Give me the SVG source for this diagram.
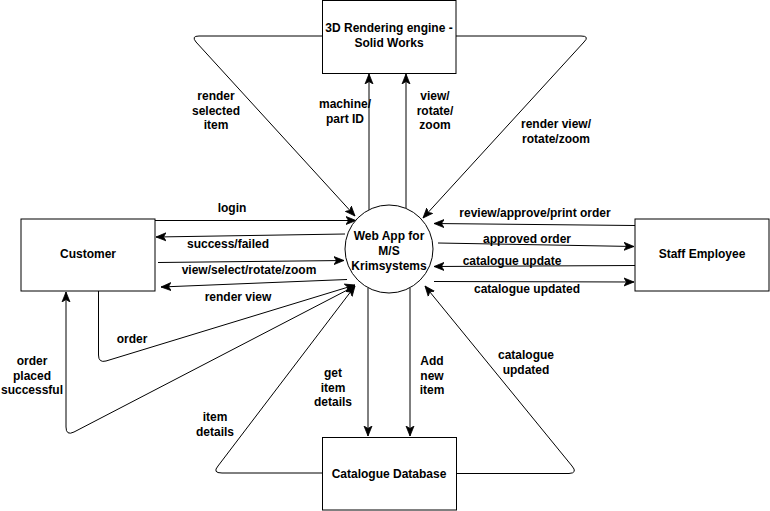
<svg xmlns="http://www.w3.org/2000/svg" width="770" height="511" viewBox="0 0 770 511">
<style>
.box{fill:#fff;stroke:#000;stroke-width:1}
.t{font-family:"Liberation Sans",Arial,sans-serif;font-size:12px;font-weight:bold;fill:#000;text-anchor:middle}
.c{fill:none;stroke:#000;stroke-width:1}
.a{marker-end:url(#arr)}
</style>
<defs>
<marker id="arr" markerUnits="userSpaceOnUse" markerWidth="12" markerHeight="10" viewBox="0 0 12 10" refX="10" refY="5" orient="auto">
<path d="M0,1 L10,5 L0,9 L2.5,5 z" fill="#000" stroke="#000" stroke-width="0.8"/>
</marker>
</defs>
<rect width="770" height="511" fill="#fff"/>
<g id="connectors">
<path class="c a" d="M322,36 L199,36 Q191,36 196,42 L355,216"/>
<path class="c a" d="M456,36 L581,36 Q590,36 584,42 L423,218"/>
<path class="c a" d="M369,210 L369,74"/>
<path class="c a" d="M406,208 L406,74"/>
<path class="c a" d="M368,288 L368,436"/>
<path class="c a" d="M410,288 L410,436"/>
<path class="c a" d="M155,220.5 L356,220.5"/>
<path class="c a" d="M345,234 L156,237"/>
<path class="c a" d="M158,262.5 L344,260.5"/>
<path class="c a" d="M347,279.5 L161,287"/>
<path class="c a" d="M98.5,291 L98.5,355 Q98.5,363 106,361 L355,285"/>
<path class="c a" d="M355,286 L74,432 Q66,436 66,427 L66,292"/>
<path class="c a" d="M322,473 L222,473 Q212,473 218,466 L355,286"/>
<path class="c a" d="M635,225.5 L434,223.5"/>
<path class="c a" d="M438,243 L634,246.5"/>
<path class="c a" d="M635,265.5 L434,266.5"/>
<path class="c a" d="M434,281.5 L634,282"/>
<path class="c a" d="M456,473.5 L569,473.5 Q578,473 572,466 L425,286"/>
</g>
<g id="engine">
<rect class="box" x="322.5" y="0.5" width="133.5" height="73"/>
<text class="t" x="389" y="31.5">3D Rendering engine -</text>
<text class="t" x="389" y="47">Solid Works</text>
</g>
<g id="customer">
<rect class="box" x="21" y="219" width="134" height="72"/>
<text class="t" x="88" y="257.5">Customer</text>
</g>
<g id="staff">
<rect class="box" x="635" y="219" width="134" height="72"/>
<text class="t" x="702" y="257.5">Staff Employee</text>
</g>
<g id="database">
<rect class="box" x="322.5" y="437.5" width="134" height="72.5"/>
<text class="t" x="389" y="477.5">Catalogue Database</text>
</g>
<g id="webapp">
<circle cx="389" cy="249" r="44" fill="#fff" stroke="#000"/>
<text class="t" x="389" y="239.5">Web App for</text>
<text class="t" x="389" y="255">M/S</text>
<text class="t" x="389" y="269.5">Krimsystems</text>
</g>
<g id="labels">
<text class="t" x="216" y="100">render</text>
<text class="t" x="216" y="115">selected</text>
<text class="t" x="216" y="129">item</text>
<text class="t" x="345" y="108">machine/</text>
<text class="t" x="345" y="122.5">part ID</text>
<text class="t" x="435" y="100">view/</text>
<text class="t" x="435" y="115">rotate/</text>
<text class="t" x="435" y="129">zoom</text>
<text class="t" x="556" y="128">render view/</text>
<text class="t" x="556" y="143">rotate/zoom</text>
<text class="t" x="232" y="212">login</text>
<text class="t" x="228" y="247.5">success/failed</text>
<text class="t" x="249" y="274">view/select/rotate/zoom</text>
<text class="t" x="238" y="301">render view</text>
<text class="t" x="535" y="217">review/approve/print order</text>
<text class="t" x="527" y="243.3">approved order</text>
<text class="t" x="512" y="265">catalogue update</text>
<text class="t" x="527" y="293.3">catalogue updated</text>
<text class="t" x="132" y="343.3">order</text>
<text class="t" x="32" y="365">order</text>
<text class="t" x="32" y="380">placed</text>
<text class="t" x="32" y="394">successful</text>
<text class="t" x="215" y="421">item</text>
<text class="t" x="215" y="436">details</text>
<text class="t" x="333" y="377">get</text>
<text class="t" x="333" y="392">item</text>
<text class="t" x="333" y="406">details</text>
<text class="t" x="432" y="365">Add</text>
<text class="t" x="432" y="380">new</text>
<text class="t" x="432" y="394">item</text>
<text class="t" x="526" y="359.3">catalogue</text>
<text class="t" x="526" y="374">updated</text>
</g>
</svg>
